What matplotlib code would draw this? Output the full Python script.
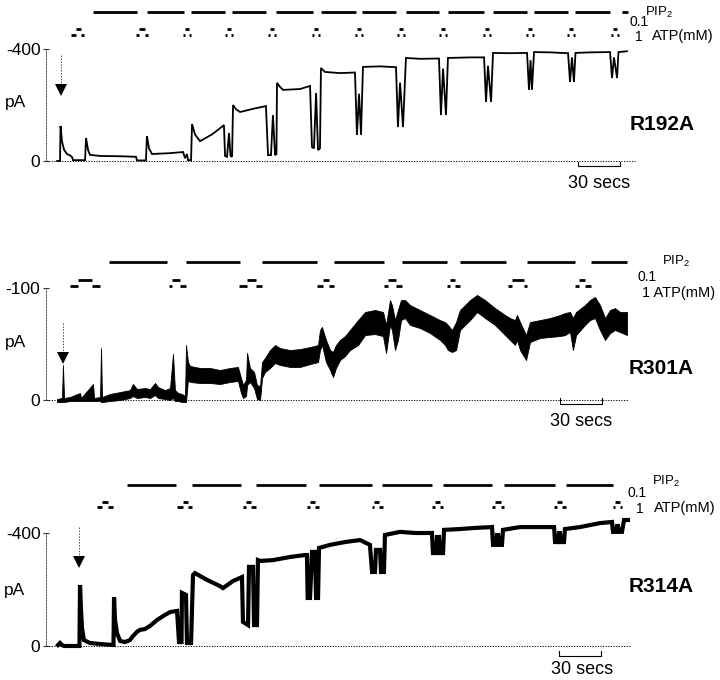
import matplotlib
matplotlib.use('Agg')
import matplotlib.pyplot as plt
import matplotlib.transforms as mtrans

plt.rcParams['font.family'] = ['Liberation Sans', 'DejaVu Sans']
plt.rcParams['mathtext.fontset'] = 'custom'
plt.rcParams['mathtext.rm'] = 'Liberation Sans'

# ---------------- data (time in s, current in pA) ----------------
names = ['R192A', 'R301A', 'R314A']
tick_top = [-400, -100, -400]
excision_t = [10.4, 12.1, 23.6]

# R192A trace
t1 = [7.9, 10.0, 10.4, 11.4, 12.9, 15.0, 17.1, 18.6, 19.3, 27.9, 28.6, 30.0, 31.4, 38.6, 52.9,
      64.3, 65.0, 71.4, 72.1, 73.6, 75.7, 88.6, 97.9, 99.3, 100.7, 101.4, 103.6, 104.3, 106.4,
      110.0, 118.6, 127.1, 127.9, 129.3, 130.7, 131.8, 132.9, 133.6, 135.7, 138.6, 149.3, 157.1,
      158.6, 160.7, 162.1, 163.6, 164.6, 165.0, 167.1, 169.3, 181.4, 188.6, 190.0, 191.4, 192.9,
      194.3, 195.7, 196.4, 199.3, 210.0, 220.7, 222.1, 223.6, 225.0, 226.4, 238.6, 250.0, 251.4,
      252.9, 255.0, 257.1, 267.1, 280.7, 282.1, 283.6, 285.7, 287.1, 302.9, 312.9, 314.3, 315.7,
      317.9, 319.3, 331.4, 343.6, 345.0, 346.1, 347.1, 348.6, 360.0, 372.9, 374.3, 375.7, 377.1,
      378.2, 388.6, 402.9, 404.3, 405.7, 407.9, 408.9, 415.0]
i1 = [0, 0, -125, -70, -40, -25, -20, -14, -3, -3, -82, -40, -22, -18, -17,
      -15, -2, -2, -89, -45, -25, -28, -32, -10, -25, -3, -3, -132, -95,
      -71, -95, -128, -18, -15, -100, -18, -15, -200, -185, -175, -188, -196,
      -21, -21, -164, -21, -25, -279, -265, -254, -257, -268, -50, -45, -243,
      -39, -45, -332, -318, -314, -316, -93, -240, -93, -336, -338, -335, -121,
      -280, -121, -368, -365, -366, -164, -330, -164, -368, -370, -370, -211, -340,
      -211, -386, -385, -386, -254, -360, -254, -389, -388, -385, -282, -370, -282,
      -386, -388, -389, -296, -370, -296, -389, -392]

# R301A noisy trace: upper (more negative) and lower envelopes
t2 = [7.9, 11.4, 12.1, 12.9, 17.1, 24.3, 25.0, 33.6, 34.3, 38.6, 39.3, 40.0, 45.7, 52.9, 60.0,
      62.1, 65.0, 70.7, 74.3, 77.9, 80.0, 85.0, 88.6, 90.7, 92.1, 94.3, 97.1, 99.3, 100.0, 101.4,
      102.9, 110.0, 117.1, 124.3, 131.4, 137.1, 139.3, 140.7, 142.9, 143.6, 145.7, 148.6, 150.7,
      152.9, 154.3, 156.4, 160.0, 163.6, 167.1, 174.3, 181.4, 188.6, 194.3, 195.7, 197.1, 200.0,
      202.9, 205.0, 207.1, 210.0, 213.6, 217.1, 222.9, 227.9, 235.0, 240.7, 242.9, 245.7, 247.1,
      249.3, 251.4, 253.6, 256.4, 260.0, 267.1, 274.3, 281.4, 285.0, 287.1, 290.0, 292.9, 295.7,
      299.3, 302.9, 307.9, 313.6, 320.7, 327.9, 331.4, 335.0, 336.4, 338.6, 342.9, 345.7, 352.9,
      360.0, 367.1, 370.7, 374.3, 376.4, 378.6, 385.0, 388.6, 392.1, 395.7, 399.3, 402.9, 406.4,
      410.0, 415.0]
hi2 = [-0.9, -1.8, -31.3, -1.8, -2.7, -6.3, -1.8, -14.3, -1.8, -2.7, -46.4, -2.7, -5.4, -7.1, -8.9,
       -14.3, -9.8, -10.7, -9.8, -15.2, -11.6, -8.9, -10.7, -41.1, -8.9, -6.3, -5.4, -3.6, -49.1, -33.9,
       -30.4, -28.6, -28.6, -26.8, -28.6, -29.5, -19.6, -13.4, -17.9, -42.0, -28.6, -25.0, -13.4,
       -12.5, -33.9, -37.5, -44.6, -49.1, -46.4, -44.6, -45.5, -47.3, -49.1, -62.5, -65.2, -53.6,
       -44.6, -42.9, -49.1, -53.6, -57.1, -62.5, -71.4, -78.6, -80.4, -78.6, -67.0, -89.3, -84.8,
       -71.4, -80.4, -89.3, -89.3, -84.8, -80.4, -75.9, -71.4, -69.6, -67.0, -62.5, -69.6, -80.4,
       -84.8, -89.3, -93.8, -89.3, -82.1, -75.9, -73.2, -71.4, -75.9, -69.6, -58.0, -69.6, -71.4,
       -73.2, -75.9, -77.7, -78.6, -73.2, -78.6, -84.8, -89.3, -92.0, -84.8, -73.2, -80.4, -82.1,
       -78.6, -78.6]
lo2 = [1.8, 1.8, 1.8, 1.8, 0.9, 0.9, 0.9, 0.9, 0.9, 0.9, 1.8, 1.8, 0.9, 0.0, -1.8,
       -3.6, -1.8, -2.7, -1.8, -4.5, -1.8, -0.9, 0.0, -1.8, 0.9, 0.9, 1.8, 1.8, 1.8, -17.9,
       -16.1, -15.2, -15.2, -14.3, -16.1, -17.0, -6.3, -1.8, -3.6, -13.4, -16.1, -10.7, -0.9,
       0.0, -19.6, -25.0, -28.6, -33.0, -31.3, -29.5, -29.5, -32.1, -33.9, -44.6, -49.1, -33.9,
       -26.8, -20.5, -28.6, -35.7, -39.3, -44.6, -49.1, -58.0, -58.9, -57.1, -42.0, -67.0, -62.5,
       -44.6, -53.6, -71.4, -73.2, -67.0, -64.3, -59.8, -53.6, -49.1, -44.6, -42.9, -44.6, -62.5,
       -67.0, -71.4, -78.6, -73.2, -67.0, -58.0, -53.6, -49.1, -53.6, -44.6, -35.7, -51.8, -55.4,
       -56.3, -57.1, -58.0, -60.7, -44.6, -58.0, -67.0, -71.4, -73.2, -62.5, -53.6, -59.8, -62.5,
       -60.7, -58.0]

# R314A trace
t3 = [8.6, 10.0, 11.4, 12.9, 23.9, 24.3, 25.0, 25.7, 27.1, 31.4, 38.6, 48.2, 48.6, 49.3, 50.7,
      52.9, 56.4, 60.0, 62.1, 65.0, 67.1, 70.7, 74.3, 79.3, 85.0, 88.6, 93.6, 95.0, 96.8, 97.1,
      100.0, 100.7, 103.6, 105.0, 106.4, 115.0, 124.3, 126.4, 133.6, 140.0, 140.7, 144.3, 145.0,
      147.9, 148.6, 150.7, 151.4, 152.9, 162.1, 174.3, 185.0, 186.4, 186.9, 188.6, 190.0, 192.1,
      192.9, 194.3, 195.0, 202.9, 213.6, 224.3, 231.4, 232.9, 235.0, 235.7, 238.6, 239.3, 241.4,
      242.1, 252.9, 263.6, 275.7, 276.4, 278.6, 279.3, 280.7, 281.4, 283.6, 284.3, 295.7, 306.4,
      318.6, 319.3, 321.4, 322.1, 322.9, 323.6, 325.7, 326.4, 338.6, 352.9, 362.9, 363.6, 365.7,
      366.4, 367.1, 367.9, 370.0, 370.7, 381.4, 395.7, 404.3, 405.0, 407.1, 407.9, 408.6, 409.3,
      411.4, 412.9, 415.7]
i3 = [-3.5, -10.6, -3.5, 0, 0, -216, -127, -64, -21, -10.6, -7, -3.5, -173, -92, -46,
      -18, -14, -21, -35, -50, -57, -60, -71, -92, -110, -120, -124, -14, -14, -188,
      -181, -10.6, -10.6, -251, -258, -234, -212, -205, -230, -244, -85, -74, -280,
      -280, -74, -74, -304, -301, -304, -315, -322, -322, -170, -170, -333, -333,
      -170, -170, -347, -358, -368, -375, -358, -262, -262, -340, -340, -262, -262,
      -393, -404, -400, -400, -329, -329, -386, -386, -329, -329, -411, -414, -418,
      -421, -358, -358, -393, -393, -358, -358, -411, -421, -421, -421, -368, -368,
      -400, -400, -368, -368, -414, -421, -435, -439, -404, -404, -425, -425, -404,
      -404, -446, -446]

# PIP2 application periods (s)
pip_on = [[33.6, 72.1, 103.6, 132.9, 164.3, 196.4, 225.7, 257.1, 287.1, 319.3, 348.6, 377.9, 411.4],
          [45.0, 100.0, 154.3, 205.7, 254.3, 295.7, 343.6, 389.3],
          [57.9, 104.3, 150.0, 195.0, 240.0, 283.6, 327.1, 371.4]]
pip_off = [[65.0, 98.6, 127.9, 157.1, 190.7, 221.4, 250.0, 280.7, 312.9, 343.6, 372.9, 402.9, 415.7],
           [86.4, 138.6, 193.6, 241.4, 286.4, 328.6, 377.9, 415.0],
           [92.9, 139.3, 185.7, 232.9, 275.7, 318.6, 363.6, 405.0]]
# ATP applications: 1 mM on, 0.1 mM on, 0.1 mM off, 1 mM off (s)
atp_a = [[17.9, 64.3, 97.9, 127.9, 158.6, 190.0, 220.7, 250.7, 280.7, 312.1, 342.9, 372.1, 403.6],
         [17.1, 87.9, 137.9, 193.6, 241.4, 286.4, 330.0, 377.9],
         [36.4, 93.6, 140.7, 186.4, 232.9, 275.7, 318.6, 362.9, 405.0]]
atp_b = [[21.4, 66.4, 99.3, 129.3, 160.0, 191.4, 222.1, 252.1, 282.1, 313.6, 344.3, 373.6, 405.0],
         [22.9, 90.0, 143.6, 197.9, 244.3, 288.6, 332.9, 380.7],
         [40.0, 97.9, 142.9, 188.6, 234.3, 277.9, 320.7, 365.0, 406.4]]
atp_c = [[25.0, 70.7, 102.1, 132.1, 162.9, 194.3, 225.0, 255.0, 285.0, 316.4, 347.1, 376.4, 407.9],
         [32.9, 95.7, 150.0, 202.1, 250.0, 292.1, 341.4, 385.0],
         [44.3, 101.4, 146.4, 192.1, 237.9, 281.4, 325.0, 368.6, 410.0]]
atp_d = [[27.1, 72.9, 103.6, 133.6, 164.3, 195.7, 226.4, 256.4, 286.4, 317.9, 348.6, 377.9, 409.3],
         [38.6, 100.0, 154.3, 205.7, 254.3, 295.7, 343.6, 389.3],
         [47.9, 104.3, 150.0, 195.0, 240.7, 283.6, 327.1, 371.4, 411.4]]
scale_start = [380.0, 367.0, 366.4]
scale_len = 30

# ---------------- layout ----------------
W, H = 720, 680
fig = plt.figure(figsize=(7.2, 6.8), dpi=100)
XL = (-32.86, 481.43)
panel_px = [(0, 200), (200, 440), (440, 680)]
ylims = [(139.3, -575.0), (35.7, -178.6), (120.4, -729.2)]
zero_end = [420.7, 415.7, 417.1]
bar_y = [0.94, 0.742, 0.8125]
atp_top_y = [0.855, 0.667, 0.742]
atp_bot_y = [0.825, 0.642, 0.719]
sb_bot = [0.17, 0.15, 0.10]
sb_top = [0.19, 0.175, 0.121]
arrow_px = [(-379, -271, -254), (-68.8, -42, -37.5), (-421, -312, -297)]


def fx(x):
    return x / W


def fy(y):
    return 1 - y / H


axes = []
for k in range(3):
    y0, y1 = panel_px[k]
    ax = fig.add_axes([0, 1 - y1 / H, 1, (y1 - y0) / H])
    ax.patch.set_visible(False)
    ax.set_xlim(XL)
    ax.set_ylim(ylims[k])
    for s in ['top', 'right', 'bottom']:
        ax.spines[s].set_visible(False)
    sp = ax.spines['left']
    sp.set_position(('data', 0))
    sp.set_bounds(tick_top[k], 0)
    sp.set_linestyle((0, (1.5, 1.5)))
    sp.set_linewidth(0.7)
    sp.set_color('0.35')
    ax.set_xticks([])
    ax.set_yticks([tick_top[k], 0])
    ax.set_yticklabels([str(tick_top[k]), '0'])
    ax.tick_params(axis='y', direction='inout', length=5, width=0.8, pad=1.5,
                   labelsize=12.5, color='0.2')
    axes.append(ax)

    # zero line
    ax.plot([0, zero_end[k]], [0, 0], color='black', lw=0.7, ls=(0, (1.2, 1.5)))

    tr = mtrans.blended_transform_factory(ax.transData, ax.transAxes)
    # PIP2 bars
    for a, b in zip(pip_on[k], pip_off[k]):
        ax.plot([a, b], [bar_y[k], bar_y[k]], color='black', lw=2.0,
                solid_capstyle='butt', transform=tr, clip_on=False)
    # ATP markers
    for a, b, c, d in zip(atp_a[k], atp_b[k], atp_c[k], atp_d[k]):
        ax.plot([a, b], [atp_bot_y[k]] * 2, color='black', lw=2.0,
                solid_capstyle='butt', transform=tr, clip_on=False)
        ax.plot([b, c], [atp_top_y[k]] * 2, color='black', lw=2.0,
                solid_capstyle='butt', transform=tr, clip_on=False)
        ax.plot([c, d], [atp_bot_y[k]] * 2, color='black', lw=2.0,
                solid_capstyle='butt', transform=tr, clip_on=False)
    # scale bar
    s0 = scale_start[k]
    ax.plot([s0, s0, s0 + scale_len, s0 + scale_len],
            [sb_top[k], sb_bot[k], sb_bot[k], sb_top[k]],
            color='black', lw=0.8, transform=tr, clip_on=False)
    # arrow (patch excision)
    ya, yb, yc = arrow_px[k]
    ax.plot([excision_t[k]] * 2, [ya, yb], color='0.3', lw=0.7, ls=(0, (1.5, 1.5)))
    ax.plot([excision_t[k]], [yc], marker='v', color='black', markersize=8, mew=0)

# traces
axes[0].plot(t1, i1, color='black', lw=1.3, solid_joinstyle='miter')
axes[1].fill_between(t2, hi2, lo2, color='black', lw=0.6, edgecolor='black')
axes[2].plot(t3, i3, color='black', lw=3.0, solid_joinstyle='miter')

# ---------------- texts ----------------
pa_pos = [(16, 103), (16, 343), (15, 590)]
name_pos = [(630, 124), (629, 368), (629, 587)]
for k in range(3):
    fig.text(fx(pa_pos[k][0]), fy(pa_pos[k][1]), 'pA', fontsize=12.5, ha='center', va='center')
    fig.text(fx(name_pos[k][0]), fy(name_pos[k][1]), names[k], fontsize=15,
             fontweight='bold', ha='left', va='center')

# legends
fig.text(fx(645), fy(12), r'PIP$_2$', fontsize=9.5, ha='left', va='center')
fig.text(fx(630), fy(22), '0.1', fontsize=10, ha='left', va='center')
fig.text(fx(635), fy(37), '1', fontsize=10, ha='left', va='center')
fig.text(fx(652), fy(36), 'ATP(mM)', fontsize=10.5, ha='left', va='center')

fig.text(fx(662), fy(261), r'PIP$_2$', fontsize=9.5, ha='left', va='center')
fig.text(fx(637), fy(277), '0.1', fontsize=10, ha='left', va='center')
fig.text(fx(642), fy(293), '1 ATP(mM)', fontsize=10.5, ha='left', va='center')

fig.text(fx(652), fy(481), r'PIP$_2$', fontsize=9.5, ha='left', va='center')
fig.text(fx(628), fy(493), '0.1', fontsize=10, ha='left', va='center')
fig.text(fx(636), fy(509), '1', fontsize=10, ha='left', va='center')
fig.text(fx(654), fy(508), 'ATP(mM)', fontsize=10.5, ha='left', va='center')

for (x, y) in [(599, 184), (581, 421), (582, 670)]:
    fig.text(fx(x), fy(y), '30 secs', fontsize=13, ha='center', va='center')

fig.savefig('out.png', dpi=100)
